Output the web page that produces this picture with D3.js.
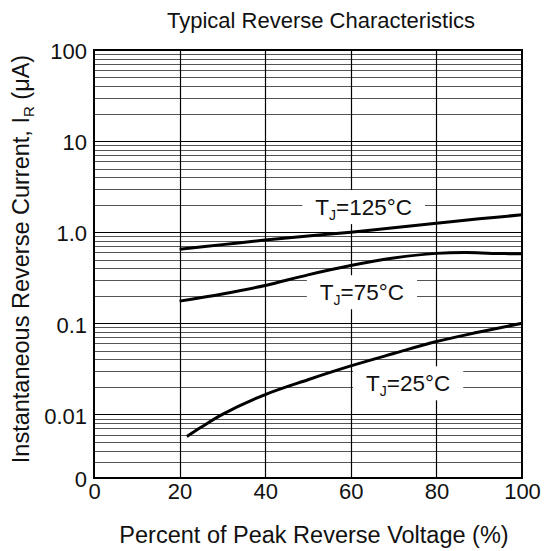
<!DOCTYPE html>
<html>
<head>
<meta charset="utf-8">
<script src="https://cdn.jsdelivr.net/npm/d3@7"></script>
<style>
  body { margin: 0; background: #fff; }
  text { font-family: "Liberation Sans", Arial, sans-serif; fill: #111; }
</style>
</head>
<body>
<div id="chart"></div>
<script>
// data
var xTicks = [0, 20, 40, 60, 80, 100];
var yTickValues = [0.002, 0.01, 0.1, 1, 10, 100];
var yTickLabels = ["0", "0.01", "0.1", "1.0", "10", "100"];

var x125 = [20, 30, 40, 50, 60, 70, 80, 90, 100];
var y125 = [0.65, 0.73, 0.82, 0.91, 1.0, 1.12, 1.25, 1.4, 1.55];

var x75 = [20, 30, 40, 50, 60, 70, 80, 87, 93, 100];
var y75 = [0.175, 0.21, 0.26, 0.34, 0.43, 0.52, 0.585, 0.598, 0.585, 0.578];

var x25 = [21.7, 25, 30, 40, 50, 60, 70, 80, 90, 100];
var y25 = [0.0057, 0.0072, 0.0100, 0.0165, 0.024, 0.034, 0.0465, 0.063, 0.08, 0.1];

var seriesNames = ["125", "75", "25"];
var labelX = [63, 62.6, 73.4];
var labelY = [1.54, 0.179, 0.0179];

var svgWidth = 546;
var svgHeight = 551;

var margin = { top: 50, right: 24, bottom: 73, left: 94 };
var width = svgWidth - margin.left - margin.right;
var height = svgHeight - margin.top - margin.bottom;

var svg = d3.select("#chart")
  .append("svg")
  .attr("width", svgWidth)
  .attr("height", svgHeight);

var chartGroup = svg.append("g")
  .attr("transform", `translate(${margin.left}, ${margin.top})`);

var xScale = d3.scaleLinear()
  .domain([0, 100])
  .range([0, width]);

var yScale = d3.scaleLog()
  .domain([0.002, 100])
  .range([height, 0]);

// minor horizontal grid lines (2..9 of each decade)
var minorVals = [];
[0.001, 0.01, 0.1, 1, 10].forEach(function(dec) {
  for (var m = 2; m <= 9; m++) {
    var v = +(dec * m).toPrecision(3);
    if (v > 0.002 && v < 100) minorVals.push(v);
  }
});

chartGroup.selectAll(".minor")
  .data(minorVals)
  .enter()
  .append("line")
  .attr("x1", 0)
  .attr("x2", width)
  .attr("y1", d => Math.round(yScale(d)) + 0.5)
  .attr("y2", d => Math.round(yScale(d)) + 0.5)
  .attr("stroke", "#555")
  .attr("stroke-width", 1);

// decade lines
chartGroup.selectAll(".major")
  .data([0.01, 0.1, 1, 10])
  .enter()
  .append("line")
  .attr("x1", 0)
  .attr("x2", width)
  .attr("y1", d => Math.round(yScale(d)) + 0.5)
  .attr("y2", d => Math.round(yScale(d)) + 0.5)
  .attr("stroke", "#000")
  .attr("stroke-width", 1.2);

// vertical grid
chartGroup.selectAll(".vgrid")
  .data(xTicks.slice(1, -1))
  .enter()
  .append("line")
  .attr("x1", d => Math.round(xScale(d)) + 0.5)
  .attr("x2", d => Math.round(xScale(d)) + 0.5)
  .attr("y1", 0)
  .attr("y2", height)
  .attr("stroke", "#000")
  .attr("stroke-width", 1.2);

// label boxes go above grid, below curves
var labelLayer = chartGroup.append("g");

// curves
var seriesX = [x125, x75, x25];
var seriesY = [y125, y75, y25];

var line = d3.line()
  .x(d => xScale(d[0]))
  .y(d => yScale(d[1]))
  .curve(d3.curveCatmullRom.alpha(0.5));

seriesX.forEach(function(xs, i) {
  var pts = xs.map((v, j) => [v, seriesY[i][j]]);
  chartGroup.append("path")
    .datum(pts)
    .attr("d", line)
    .attr("fill", "none")
    .attr("stroke", "#000")
    .attr("stroke-width", 3);
});

seriesNames.forEach(function(name, i) {
  var g = labelLayer.append("g");
  var rect = g.append("rect").attr("fill", "#fff");
  var t = g.append("text")
    .attr("x", xScale(labelX[i]))
    .attr("y", yScale(labelY[i]))
    .attr("text-anchor", "middle")
    .style("font-size", "22.5px");
  t.append("tspan").text("T");
  t.append("tspan").attr("dy", 5).style("font-size", "14px").text("J");
  t.append("tspan").attr("dy", -5).text("=" + name + "\u00B0C");
  var bb = t.node().getBBox();
  rect.attr("x", bb.x - 13)
    .attr("y", bb.y - 5)
    .attr("width", bb.width + 26)
    .attr("height", bb.height + 6);
});

// frame
chartGroup.append("rect")
  .attr("x", 0)
  .attr("y", 0)
  .attr("width", width)
  .attr("height", height)
  .attr("fill", "none")
  .attr("stroke", "#000")
  .attr("stroke-width", 2);

// axes
var leftAxis = d3.axisLeft(yScale)
  .tickValues(yTickValues)
  .tickFormat((d, i) => yTickLabels[i])
  .tickSize(0)
  .tickPadding(7);

var bottomAxis = d3.axisBottom(xScale)
  .tickValues(xTicks)
  .tickFormat(d => d)
  .tickSize(0)
  .tickPadding(5);

var yAxisG = chartGroup.append("g").call(leftAxis);
yAxisG.select(".domain").remove();
yAxisG.selectAll("text")
  .style("font-size", "22px")
  .attr("dy", "0.4em")
  .style("fill", "#111");

var xAxisG = chartGroup.append("g")
  .attr("transform", `translate(0, ${height})`)
  .call(bottomAxis);
xAxisG.select(".domain").remove();
xAxisG.selectAll("text")
  .style("font-size", "22px")
  .style("fill", "#111");

// titles
svg.append("text")
  .attr("x", 321)
  .attr("y", 28)
  .attr("text-anchor", "middle")
  .style("font-size", "22px")
  .text("Typical Reverse Characteristics");

svg.append("text")
  .attr("x", 314)
  .attr("y", 543)
  .attr("text-anchor", "middle")
  .style("font-size", "23.5px")
  .text("Percent of Peak Reverse Voltage (%)");

var yTitle = svg.append("text")
  .attr("transform", "translate(29, 259) rotate(-90)")
  .attr("text-anchor", "middle")
  .style("font-size", "23.5px");
yTitle.append("tspan").text("Instantaneous Reverse Current, I");
yTitle.append("tspan").attr("dy", 5).style("font-size", "15px").text("R");
yTitle.append("tspan").attr("dy", -5).text(" (\u03BCA)");
</script>
</body>
</html>
